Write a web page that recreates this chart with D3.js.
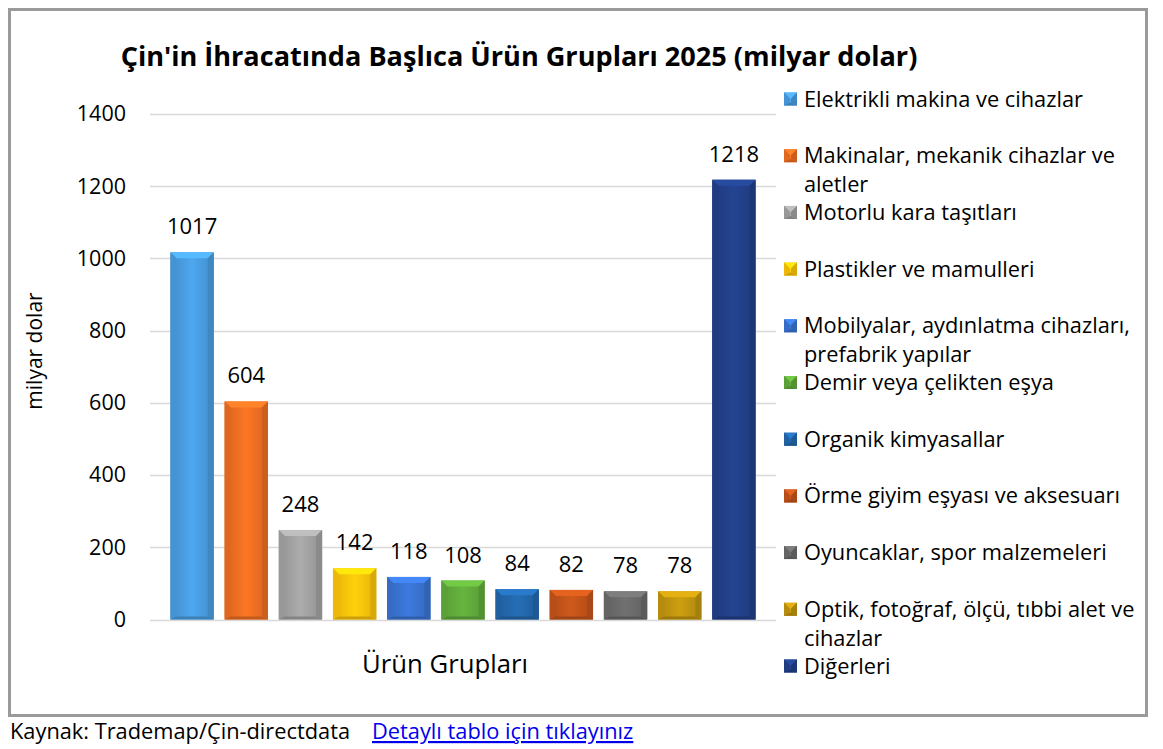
<!DOCTYPE html>
<html>
<head>
<meta charset="utf-8">
<script src="https://cdn.jsdelivr.net/npm/d3@7/dist/d3.min.js"></script>
<style>
  body { margin: 0; background: #fff; font-family: "Open Sans", "Noto Sans", sans-serif; }
  #chart { position: absolute; left: 0; top: 0; }
</style>
</head>
<body>
<div id="chart"></div>
<script>
// Data
var categories = [
    'Elektrikli makina ve cihazlar',
    'Makinalar, mekanik cihazlar ve aletler',
    'Motorlu kara taşıtları',
    'Plastikler ve mamulleri',
    'Mobilyalar, aydınlatma cihazları, prefabrik yapılar',
    'Demir veya çelikten eşya',
    'Organik kimyasallar',
    'Örme giyim eşyası ve aksesuarı',
    'Oyuncaklar, spor malzemeleri',
    'Optik, fotoğraf, ölçü, tıbbi alet ve cihazlar',
    'Diğerleri'
];
var values = [1017, 604, 248, 142, 118, 108, 84, 82, 78, 78, 1218];
// legend lines as wrapped in the original
var legendLines = [
    ['Elektrikli makina ve cihazlar'],
    ['Makinalar, mekanik cihazlar ve', 'aletler'],
    ['Motorlu kara taşıtları'],
    ['Plastikler ve mamulleri'],
    ['Mobilyalar, aydınlatma cihazları,', 'prefabrik yapılar'],
    ['Demir veya çelikten eşya'],
    ['Organik kimyasallar'],
    ['Örme giyim eşyası ve aksesuarı'],
    ['Oyuncaklar, spor malzemeleri'],
    ['Optik, fotoğraf, ölçü, tıbbi alet ve', 'cihazlar'],
    ['Diğerleri']
];
var colors = ['#4a9ee3', '#f07023', '#a3a3a3', '#ffc60a', '#3a74d2', '#62ac3c',
              '#2368ad', '#c4541a', '#6b6b6b', '#c2960f', '#22408a'];
var yTicks = [0, 200, 400, 600, 800, 1000, 1200, 1400];

var W = 1163, H = 749;
var svg = d3.select('#chart').append('svg')
    .attr('width', W).attr('height', H);

// Chart frame
svg.append('rect')
    .attr('x', 9.5).attr('y', 9.5)
    .attr('width', 1137).attr('height', 706)
    .attr('fill', '#fff')
    .attr('stroke', '#9a9a9a').attr('stroke-width', 3);

svg.append('text')
    .attr('x', 519).attr('y', 66)
    .attr('text-anchor', 'middle')
    .style('font-size', '27.1px').style('font-weight', 'bold')
    .text("Çin'in İhracatında Başlıca Ürün Grupları 2025 (milyar dolar)");

var x = d3.scaleBand()
    .domain(categories)
    .range([165, 761])
    .paddingInner(0.2)
    .paddingOuter(0.1);

var y = d3.scaleLinear()
    .domain([0, 1400])
    .range([619.5, 114]);

// Gridlines
svg.append('g').selectAll('line')
    .data(yTicks)
    .enter().append('line')
    .attr('x1', 150).attr('x2', 776)
    .attr('y1', function(d) { return Math.round(y(d)) + 0.5; })
    .attr('y2', function(d) { return Math.round(y(d)) + 0.5; })
    .style('stroke', '#d9d9d9').style('stroke-width', 1.3);

// Y axis labels
var yAxis = d3.axisLeft(y).tickValues(yTicks).tickFormat(d3.format('d'))
    .tickSize(0).tickPadding(0);
var yg = svg.append('g')
    .attr('transform', 'translate(126,0)')
    .call(yAxis);
yg.select('.domain').remove();
yg.selectAll('text')
    .style('font-family', '"Open Sans", sans-serif')
    .style('font-size', '21.5px')
    .attr('fill', '#000');

svg.append('text')
    .attr('transform', 'translate(42,351) rotate(-90)')
    .attr('text-anchor', 'middle')
    .style('font-size', '21px')
    .text('milyar dolar');

svg.append('text')
    .attr('x', 445).attr('y', 673)
    .attr('text-anchor', 'middle')
    .style('font-size', '25.7px')
    .text('Ürün Grupları');

// Gradients for the bevelled bars
var defs = svg.append('defs');
colors.forEach(function(c, i) {
    var g = defs.append('linearGradient')
        .attr('id', 'grad' + i)
        .attr('x1', '0').attr('x2', '1').attr('y1', '0').attr('y2', '0');
    g.append('stop').attr('offset', '0%').attr('stop-color', d3.color(c).darker(0.3));
    g.append('stop').attr('offset', '50%').attr('stop-color', d3.color(c).brighter(0.15));
    g.append('stop').attr('offset', '100%').attr('stop-color', d3.color(c).darker(0.3));
});

function bevel(g, bx, by, bw, bh, i) {
    var b = Math.min(6, bh / 2), c = colors[i];
    g.append('rect')
        .attr('x', bx).attr('y', by).attr('width', bw).attr('height', bh)
        .attr('fill', 'url(#grad' + i + ')');
    // top face
    g.append('polygon')
        .attr('points', [[bx, by], [bx + bw, by], [bx + bw - b, by + b], [bx + b, by + b]].join(' '))
        .attr('fill', d3.color(c).brighter(0.45));
    // left and right faces
    g.append('polygon')
        .attr('points', [[bx, by], [bx + b, by + b], [bx + b, by + bh - b / 2], [bx, by + bh]].join(' '))
        .attr('fill', d3.color(c).darker(0.2));
    g.append('polygon')
        .attr('points', [[bx + bw, by], [bx + bw - b, by + b], [bx + bw - b, by + bh - b / 2], [bx + bw, by + bh]].join(' '))
        .attr('fill', d3.color(c).darker(0.45));
    // bottom face
    g.append('polygon')
        .attr('points', [[bx, by + bh], [bx + b, by + bh - b / 2], [bx + bw - b, by + bh - b / 2], [bx + bw, by + bh]].join(' '))
        .attr('fill', d3.color(c).darker(0.6));
}

var bars = svg.append('g');
values.forEach(function(v, i) {
    var bx = x(categories[i]), bw = x.bandwidth();
    bevel(bars, bx, y(v), bw, y(0) - y(v), i);
});

svg.append('g').selectAll('text')
    .data(values)
    .enter().append('text')
    .attr('x', function(d, i) { return x(categories[i]) + x.bandwidth() / 2; })
    .attr('y', function(d) { return y(d) - 18; })
    .attr('text-anchor', 'middle')
    .style('font-size', '22px')
    .text(function(d) { return d; });

// Legend
var legend = svg.append('g');
var legendTop = 99, legendStep = 56.7;
legendLines.forEach(function(lines, i) {
    var cy = legendTop + i * legendStep;
    var m = legend.append('g');
    bevel(m, 784, cy - 6.5, 13, 13, i);
    lines.forEach(function(line, j) {
        legend.append('text')
            .attr('x', 804).attr('y', cy + 7.5 + j * 29)
            .style('font-size', '21.8px')
            .text(line);
    });
});

// Source note below the frame
svg.append('text')
    .attr('x', 10).attr('y', 739)
    .style('font-size', '21.8px')
    .text('Kaynak: Trademap/Çin-directdata');
svg.append('a')
    .attr('href', '#')
    .append('text')
    .attr('x', 372).attr('y', 739)
    .style('font-size', '21.8px')
    .attr('fill', '#0000ee')
    .style('text-decoration', 'underline')
    .text('Detaylı tablo için tıklayınız');
</script>
</body>
</html>
